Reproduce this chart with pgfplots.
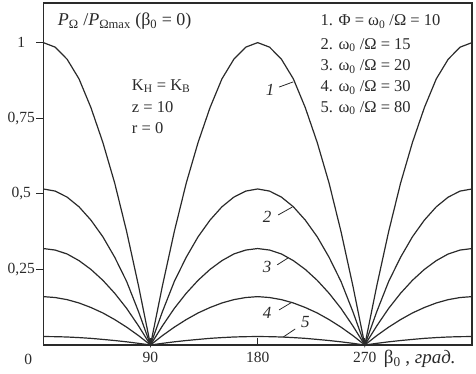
\documentclass[border=0pt]{standalone}
\usepackage{fontspec}
\setmainfont{Liberation Serif}
\usepackage{pgfplots}
\usepackage{pgfplotstable}
\pgfplotsset{compat=1.18}
\pgfplotstableread{
b c1 c2 c3 c4 c5
0 1 0.516 0.319 0.160 0.028
10 0.985 0.509 0.314 0.157 0.0276
20 0.945 0.489 0.301 0.150 0.0265
30 0.88 0.457 0.279 0.139 0.0245
40 0.785 0.413 0.250 0.124 0.022
50 0.67 0.358 0.214 0.106 0.0185
60 0.535 0.290 0.171 0.084 0.0148
70 0.375 0.210 0.121 0.059 0.0105
80 0.195 0.110 0.063 0.031 0.0055
90 0 0 0 0 0
100 0.195 0.110 0.063 0.031 0.0055
110 0.375 0.210 0.121 0.059 0.0105
120 0.535 0.290 0.171 0.084 0.0148
130 0.67 0.358 0.214 0.106 0.0185
140 0.785 0.413 0.250 0.124 0.022
150 0.88 0.457 0.279 0.139 0.0245
160 0.945 0.489 0.301 0.150 0.0265
170 0.985 0.509 0.314 0.157 0.0276
180 1 0.516 0.319 0.160 0.028
190 0.985 0.509 0.314 0.157 0.0276
200 0.945 0.489 0.301 0.150 0.0265
210 0.88 0.457 0.279 0.139 0.0245
220 0.785 0.413 0.250 0.124 0.022
230 0.67 0.358 0.214 0.106 0.0185
240 0.535 0.290 0.171 0.084 0.0148
250 0.375 0.210 0.121 0.059 0.0105
260 0.195 0.110 0.063 0.031 0.0055
270 0 0 0 0 0
280 0.195 0.110 0.063 0.031 0.0055
290 0.375 0.210 0.121 0.059 0.0105
300 0.535 0.290 0.171 0.084 0.0148
310 0.67 0.358 0.214 0.106 0.0185
320 0.785 0.413 0.250 0.124 0.022
330 0.88 0.457 0.279 0.139 0.0245
340 0.945 0.489 0.301 0.150 0.0265
350 0.985 0.509 0.314 0.157 0.0276
360 1 0.516 0.319 0.160 0.028
}\data
\definecolor{ink}{HTML}{2A2A2A}
\begin{document}
\begin{tikzpicture}
\begin{axis}[
  scale only axis,
  width=428.7pt, height=342pt,
  at={(0,0)}, anchor=south west,
  xmin=0, xmax=360, ymin=0, ymax=1.131,
  axis line style={ink, line width=1.4pt},
  xtick={90,180,270}, xticklabels={90,180,270},
  ytick={0.25,0.5,0.75,1}, yticklabels={{0,25},{0,5},{0,75},1},
  xtick pos=bottom, ytick pos=left,
  major tick length=7pt,
  tick style={ink, line width=0.8pt},
  xtick align=inside, ytick align=outside,
  tick label style={font=\fontsize{15.5}{18}\selectfont, text=ink},
  xticklabel style={yshift=-4pt},
  yticklabel style={anchor=center, xshift=-15pt},
  /pgf/number format/assume math mode=true,
  clip=false,
]
\addplot[ink, line width=1.2pt, mark=none] table[x=b, y=c1] {\data};
\addplot[ink, line width=1.2pt, mark=none] table[x=b, y=c2] {\data};
\addplot[ink, line width=1.2pt, mark=none] table[x=b, y=c3] {\data};
\addplot[ink, line width=1.2pt, mark=none] table[x=b, y=c4] {\data};
\addplot[ink, line width=1.2pt, mark=none] table[x=b, y=c5] {\data};
% curve labels
\begin{scope}[font=\fontsize{17}{18}\selectfont\itshape, text=ink]
\node at (axis cs:190.5,0.844) {1};
\draw[ink, line width=0.8pt] (axis cs:198,0.853) -- (axis cs:209.8,0.870);
\node at (axis cs:188,0.423) {2};
\draw[ink, line width=0.8pt] (axis cs:197.2,0.430) -- (axis cs:209,0.456);
\node at (axis cs:188,0.258) {3};
\draw[ink, line width=0.8pt] (axis cs:196.4,0.265) -- (axis cs:205.6,0.288);
\node at (axis cs:188,0.106) {4};
\draw[ink, line width=0.8pt] (axis cs:198,0.116) -- (axis cs:209,0.142);
\node at (axis cs:220,0.076) {5};
\draw[ink, line width=0.8pt] (axis cs:201.4,0.026) -- (axis cs:211.5,0.053);
\end{scope}
\begin{scope}[font=\fontsize{16.5}{18}\selectfont, text=ink]
\node[anchor=west] at (axis cs:9.3,1.070) {\fontsize{18}{20}\selectfont\textit{P}\textsubscript{Ω} /\textit{P}\textsubscript{Ωmax} (β\textsubscript{0} = 0)};
\node[anchor=west] at (axis cs:71.5,0.856) {K\textsubscript{Н} = K\textsubscript{В}};
\node[anchor=west] at (axis cs:71.5,0.787) {z = 10};
\node[anchor=west] at (axis cs:71.5,0.718) {r = 0};
\node[anchor=west] at (axis cs:230,1.069) {1. Φ = ω\textsubscript{0} /Ω = 10};
\node[anchor=west] at (axis cs:230,0.992) {2. ω\textsubscript{0} /Ω = 15};
\node[anchor=west] at (axis cs:230,0.920) {3. ω\textsubscript{0} /Ω = 20};
\node[anchor=west] at (axis cs:230,0.852) {4. ω\textsubscript{0} /Ω = 30};
\node[anchor=west] at (axis cs:230,0.783) {5. ω\textsubscript{0} /Ω = 80};
\node[font=\fontsize{15.5}{18}\selectfont] at (axis cs:-12.6,-0.047) {0};
\node[anchor=west] at (axis cs:283,-0.047) {\fontsize{19}{20}\selectfont β\textsubscript{0} , \textit{град.}};
\end{scope}
\end{axis}
\pgfresetboundingbox
\path (-43.3pt,-28pt) rectangle (432.7pt,345pt);
\end{tikzpicture}
\end{document}
